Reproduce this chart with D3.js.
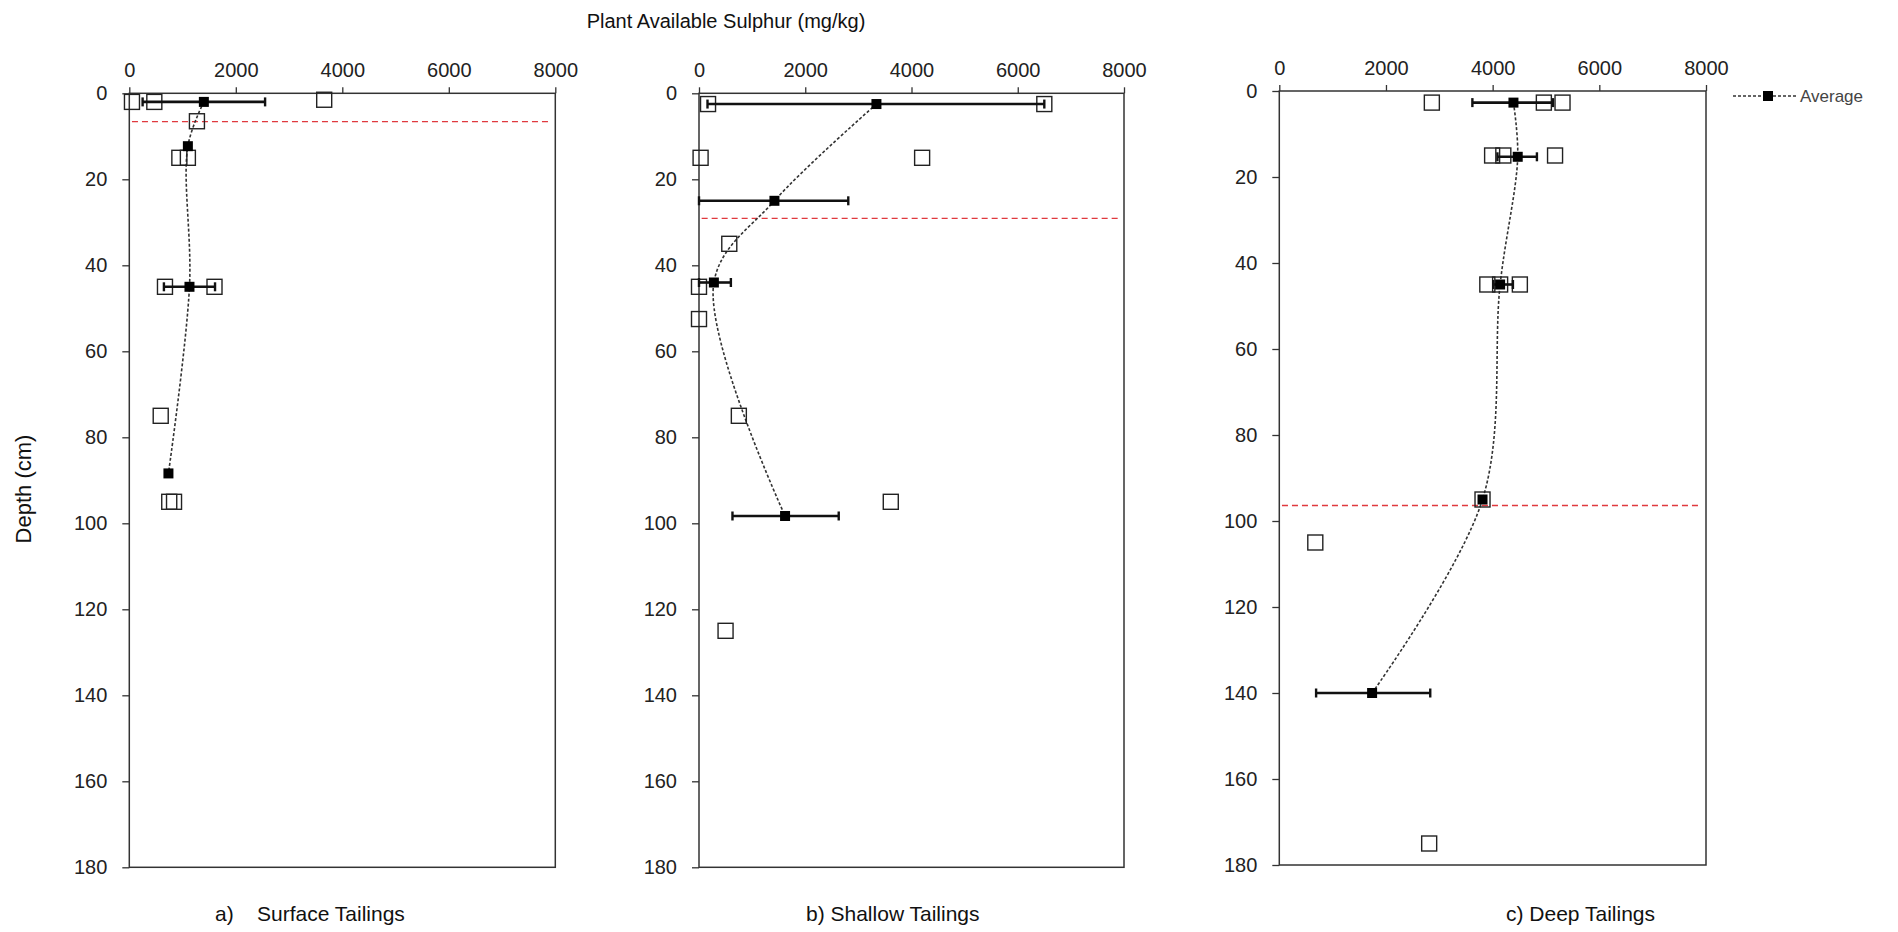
<!DOCTYPE html>
<html>
<head>
<meta charset="utf-8">
<script src="https://cdn.jsdelivr.net/npm/d3@7"></script>
<style>
  html, body { margin: 0; padding: 0; background: #fff; }
  svg { display: block; font-family: "Liberation Sans", Arial, sans-serif; }
</style>
</head>
<body>
<svg id="chart" width="1898" height="932"></svg>
<script>
// ---------------- DATA ----------------
const xTicks = [0, 2000, 4000, 6000, 8000];
const yTicks = [0, 20, 40, 60, 80, 100, 120, 140, 160, 180];
const panelTitles = ["a)    Surface Tailings", "b) Shallow Tailings", "c) Deep Tailings"];

// individual samples: depth (cm), sulphur (mg/kg)
const surfaceDepths = [2, 2, 1.5, 6.5, 15, 15, 45, 45, 75, 95, 95];
const surfaceValues = [50, 470, 3660, 1270, 940, 1100, 670, 1600, 590, 750, 840];
const shallowDepths = [2.5, 2.5, 15, 15, 35, 45, 52.5, 75, 95, 125];
const shallowValues = [170, 6500, 30, 4200, 570, 0, 0, 750, 3610, 500];
const deepDepths = [2.7, 2.7, 2.7, 15, 15, 15, 45, 45, 45, 95, 105, 175];
const deepValues = [2860, 4960, 5310, 3990, 4200, 5170, 3900, 4140, 4510, 3810, 675, 2810];

// averages with error range (null = no bar)
const surfaceAvgDepths = [2, 12.3, 45, 88.4];
const surfaceAvgValues = [1400, 1100, 1130, 735];
const surfaceAvgLow = [250, null, 650, null];
const surfaceAvgHigh = [2550, null, 1610, null];
const shallowAvgDepths = [2.5, 25, 44, 98.3];
const shallowAvgValues = [3340, 1420, 280, 1620];
const shallowAvgLow = [160, 0, 0, 630];
const shallowAvgHigh = [6500, 2810, 600, 2630];
const deepAvgDepths = [2.7, 15.3, 45, 95, 140];
const deepAvgValues = [4390, 4470, 4140, 3810, 1740];
const deepAvgLow = [3620, 4090, 4010, null, 690];
const deepAvgHigh = [5130, 4830, 4380, null, 2830];

// red dashed reference depth per panel
const refDepths = [6.6, 29.1, 96.4];

// ---------------- LAYOUT ----------------
const panels = [
  { x0: 129.3, x1: 555.3, y0: 93.3, y1: 867.3, titleX: 215,
    obsD: surfaceDepths, obsV: surfaceValues,
    avgD: surfaceAvgDepths, avgV: surfaceAvgValues, lo: surfaceAvgLow, hi: surfaceAvgHigh },
  { x0: 699, x1: 1124, y0: 93.3, y1: 867.3, titleX: 806,
    obsD: shallowDepths, obsV: shallowValues,
    avgD: shallowAvgDepths, avgV: shallowAvgValues, lo: shallowAvgLow, hi: shallowAvgHigh },
  { x0: 1279.3, x1: 1706, y0: 91, y1: 865, titleX: 1506,
    obsD: deepDepths, obsV: deepValues,
    avgD: deepAvgDepths, avgV: deepAvgValues, lo: deepAvgLow, hi: deepAvgHigh }
];

const svg = d3.select("#chart");
const axisColor = "#333";

panels.forEach((p, i) => {
  const x = d3.scaleLinear().domain([0, 8000]).range([p.x0, p.x1]);
  const y = d3.scaleLinear().domain([0, 180]).range([p.y0, p.y1]);
  const g = svg.append("g");

  // frame
  g.append("rect")
    .attr("x", p.x0).attr("y", p.y0)
    .attr("width", p.x1 - p.x0).attr("height", p.y1 - p.y0)
    .attr("fill", "none").attr("stroke", axisColor).attr("stroke-width", 1.5);

  // top axis
  const ax = g.append("g").attr("transform", `translate(0,${p.y0})`)
    .call(d3.axisTop(x).tickValues(xTicks).tickSizeOuter(0).tickSizeInner(6).tickPadding(10).tickFormat(d3.format("d")));
  ax.select(".domain").remove();
  ax.selectAll("line").attr("stroke", axisColor).attr("stroke-width", 1.3);
  ax.selectAll("text").attr("font-size", 20).attr("fill", "#222")
    .attr("font-family", "'Liberation Sans', Arial, sans-serif");

  // left axis
  const ay = g.append("g").attr("transform", `translate(${p.x0},0)`)
    .call(d3.axisLeft(y).tickValues(yTicks).tickSizeOuter(0).tickSizeInner(7).tickPadding(15));
  ay.select(".domain").remove();
  ay.selectAll("line").attr("stroke", axisColor).attr("stroke-width", 1.3);
  ay.selectAll("text").attr("font-size", 20).attr("fill", "#222")
    .attr("font-family", "'Liberation Sans', Arial, sans-serif");

  // red dashed reference
  g.append("line")
    .attr("x1", x(50)).attr("x2", x(7920))
    .attr("y1", y(refDepths[i])).attr("y2", y(refDepths[i]))
    .attr("stroke", "#e0393e").attr("stroke-width", 1.3).attr("stroke-dasharray", "6,4");

  // smoothed average line
  const avg = p.avgD.map((d, k) => ({ d, v: p.avgV[k], lo: p.lo[k], hi: p.hi[k] }));
  const line = d3.line().x(a => x(a.v)).y(a => y(a.d)).curve(d3.curveCatmullRom.alpha(0.5));
  g.append("path").datum(avg).attr("d", line)
    .attr("fill", "none").attr("stroke", "#333").attr("stroke-width", 1.6).attr("stroke-dasharray", "3,2");

  // individual samples
  const obs = p.obsD.map((d, k) => ({ d, v: p.obsV[k] }));
  const S = 15;
  g.selectAll(".obs").data(obs).enter().append("rect")
    .attr("x", o => x(o.v) - S / 2).attr("y", o => y(o.d) - S / 2)
    .attr("width", S).attr("height", S)
    .attr("fill", "none").attr("stroke", "#222").attr("stroke-width", 1.4);

  // error bars
  const eb = avg.filter(a => a.lo !== null);
  g.selectAll(".eb").data(eb).enter().append("line")
    .attr("x1", a => x(a.lo)).attr("x2", a => x(a.hi))
    .attr("y1", a => y(a.d)).attr("y2", a => y(a.d))
    .attr("stroke", "#111").attr("stroke-width", 2.6);
  ["lo", "hi"].forEach(k => {
    g.selectAll(".cap" + k).data(eb).enter().append("line")
      .attr("x1", a => x(a[k])).attr("x2", a => x(a[k]))
      .attr("y1", a => y(a.d) - 4.5).attr("y2", a => y(a.d) + 4.5)
      .attr("stroke", "#111").attr("stroke-width", 2.4);
  });

  // average markers
  const M = 10;
  g.selectAll(".avg").data(avg).enter().append("rect")
    .attr("x", a => x(a.v) - M / 2).attr("y", a => y(a.d) - M / 2)
    .attr("width", M).attr("height", M).attr("fill", "#000");

  // panel title
  svg.append("text").attr("x", p.titleX).attr("y", 921)
    .attr("font-size", 21).attr("fill", "#111")
    .attr("xml:space", "preserve").style("white-space", "pre")
    .text(panelTitles[i]);
});

// main title
svg.append("text").attr("x", 726).attr("y", 28).attr("text-anchor", "middle")
  .attr("font-size", 20).attr("fill", "#111")
  .text("Plant Available Sulphur (mg/kg)");

// y-axis label
svg.append("text").attr("transform", "translate(31,489) rotate(-90)")
  .attr("text-anchor", "middle").attr("font-size", 22).attr("fill", "#111")
  .text("Depth (cm)");

// legend
const lg = svg.append("g");
lg.append("line").attr("x1", 1733).attr("x2", 1796).attr("y1", 96).attr("y2", 96)
  .attr("stroke", "#333").attr("stroke-width", 1.4).attr("stroke-dasharray", "3,2");
lg.append("rect").attr("x", 1763).attr("y", 91).attr("width", 10).attr("height", 10).attr("fill", "#000");
lg.append("text").attr("x", 1800).attr("y", 102).attr("font-size", 17).attr("fill", "#444").text("Average");
</script>
</body>
</html>
